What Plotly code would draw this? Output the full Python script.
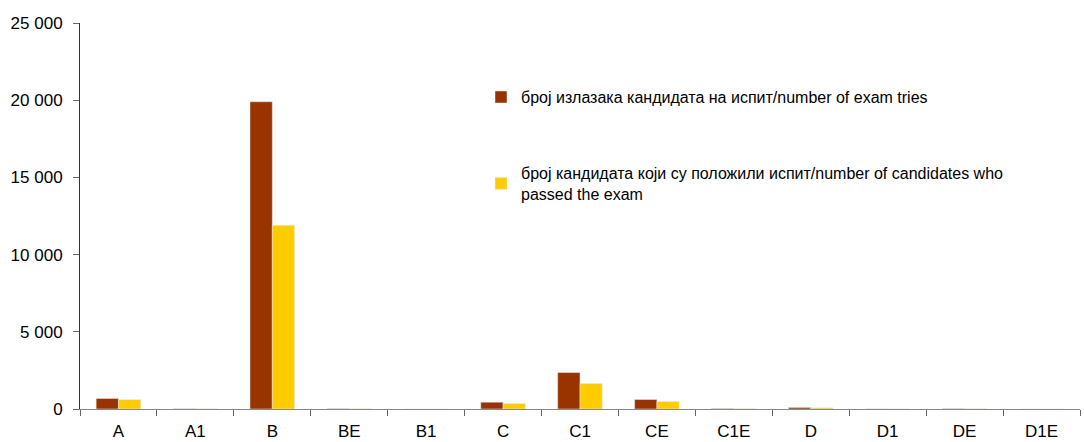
import plotly.graph_objects as go

categories = ["A", "A1", "B", "BE", "B1", "C", "C1", "CE", "C1E", "D", "D1", "DE", "D1E"]
exam_tries = [680, 15, 19900, 20, 0, 440, 2360, 615, 30, 100, 5, 20, 0]
passed = [610, 10, 11900, 15, 0, 355, 1650, 485, 20, 75, 3, 15, 0]
y_ticks = [0, 5000, 10000, 15000, 20000, 25000]

name1 = "број излазака кандидата на испит/number of exam tries"
name2 = "број кандидата који су положили испит/number of candidates who<br>passed the exam"

FONT = "Liberation Sans, Arial, sans-serif"
FS = 17
LFS = 16

fig = go.Figure()
fig.add_trace(go.Bar(x=categories, y=exam_tries, name=name1, marker_color="#993300",
                     legend="legend", showlegend=True))
fig.add_trace(go.Bar(x=categories, y=passed, name=name2, marker_color="#FFCC00",
                     legend="legend2", showlegend=True))

legend_common = dict(bgcolor="rgba(0,0,0,0)", font=dict(family=FONT, size=LFS, color="#000"),
                     itemwidth=30, xanchor="left", yanchor="middle", traceorder="normal")

fig.update_layout(
    width=1084, height=442,
    margin=dict(l=80, r=4, t=23, b=33),
    paper_bgcolor="white", plot_bgcolor="white",
    separators=". ",
    showlegend=True,
    barmode="group", bargap=0.42, bargroupgap=0,
    font=dict(family=FONT, size=FS, color="#000"),
    legend=dict(x=0.401, y=0.808, **legend_common),
    legend2=dict(x=0.401, y=0.584, **legend_common),
    xaxis=dict(showline=True, linecolor="#888", linewidth=1, ticks="outside",
               tickson="boundaries", ticklen=6, tickcolor="#666", automargin=False,
               ticklabelstandoff=7, tickfont=dict(family=FONT, size=FS)),
    yaxis=dict(range=[0, 25000], tickvals=y_ticks, tickformat=",.0f", showgrid=False,
               showline=True, linecolor="#333", linewidth=1, ticks="outside", ticklen=6,
               tickcolor="#666", zeroline=False, automargin=False,
               ticklabelstandoff=7, tickfont=dict(family=FONT, size=FS)),
)

fig.write_html("out.html", config={"displayModeBar": False},
               post_script="document.body.style.margin='0';")
